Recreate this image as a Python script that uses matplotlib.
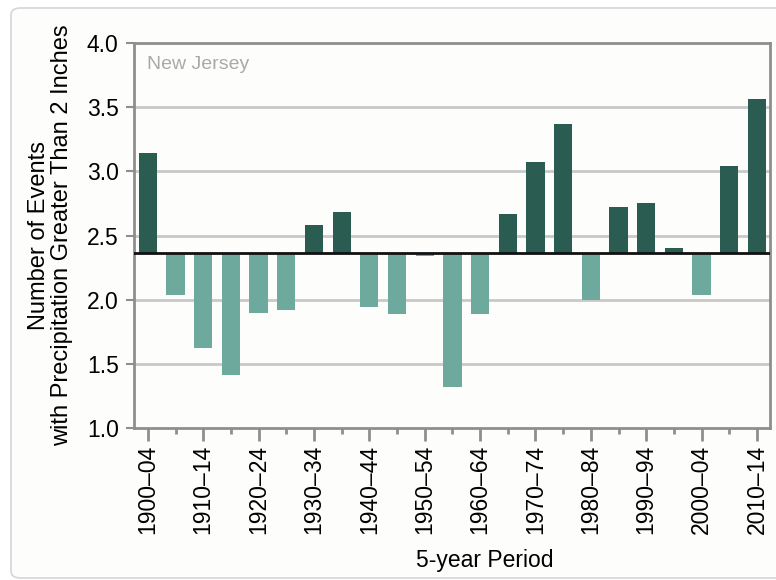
import numpy as np
import matplotlib
matplotlib.use('Agg')
import matplotlib.pyplot as plt
from matplotlib.patches import FancyBboxPatch

plt.rcParams['font.family'] = ['Liberation Sans', 'DejaVu Sans']

# data
periods = ['1900–04', '1905–09', '1910–14', '1915–19', '1920–24', '1925–29',
           '1930–34', '1935–39', '1940–44', '1945–49', '1950–54', '1955–59',
           '1960–64', '1965–69', '1970–74', '1975–79', '1980–84', '1985–89',
           '1990–94', '1995–99', '2000–04', '2005–09', '2010–14']
events = [3.14, 2.04, 1.62, 1.41, 1.90, 1.92, 2.58, 2.68, 1.94, 1.89, 2.34, 1.32,
          1.89, 2.67, 3.07, 3.37, 2.00, 2.72, 2.75, 2.40, 2.04, 3.04, 3.56]
baseline = 2.366

dark = '#2a5c52'
light = '#6ea99d'
frame = '#8e8e8e'

x = np.arange(len(periods))
vals = np.array(events)
cols = [dark if v > baseline else light for v in vals]

fig = plt.figure(figsize=(7.76, 5.80), dpi=100, facecolor='white')
ax = fig.add_axes([134/776, 1-428/580, 636/776, 385/580])
ax.set_facecolor('#fdfdfb')

# card border
card = FancyBboxPatch((11/776, 2/580), 780/776, 570/580, boxstyle='round,pad=0,rounding_size=0.012',
                      transform=fig.transFigure, facecolor='#fdfdfb', edgecolor='#d6d6d6', lw=1.2, zorder=-10)
fig.patches.append(card)

for yv in [1.5, 2.0, 2.5, 3.0, 3.5]:
    ax.axhline(yv, color='#c9c9c9', lw=2, zorder=0)

ax.bar(x, vals - baseline, bottom=baseline, width=0.66, color=cols, zorder=2)
ax.axhline(baseline, color='#111111', lw=2, zorder=3)

ax.set_xlim(-0.5, 22.47)
ax.set_ylim(1.0, 4.0)
ax.set_yticks(np.arange(1.0, 4.01, 0.5))
ax.set_yticklabels(['%.1f' % v for v in np.arange(1.0, 4.01, 0.5)], fontsize=16.5)

ax.set_xticks(x[::2])
ax.set_xticklabels(periods[::2], rotation=90, fontsize=16.5)
ax.set_xticks(x[1::2], minor=True)

for s in ax.spines.values():
    s.set_color(frame)
    s.set_linewidth(2)

ax.tick_params(axis='y', length=6, width=1.5, color=frame, pad=5)
ax.tick_params(axis='x', which='major', length=9, width=2, color=frame, pad=3)
ax.tick_params(axis='x', which='minor', length=4, width=2, color=frame)

ax.set_ylabel('Number of Events\nwith Precipitation Greater Than 2 Inches', fontsize=17, labelpad=10, linespacing=1.05)
ax.set_xlabel('5-year Period', fontsize=16.5)
ax.xaxis.set_label_coords(0.552, -0.315)

ax.text(0.02, 0.965, 'New Jersey', transform=ax.transAxes, color='#a9a9a9', fontsize=14, va='top', ha='left')

fig.savefig('out.png', dpi=100, facecolor='white')
